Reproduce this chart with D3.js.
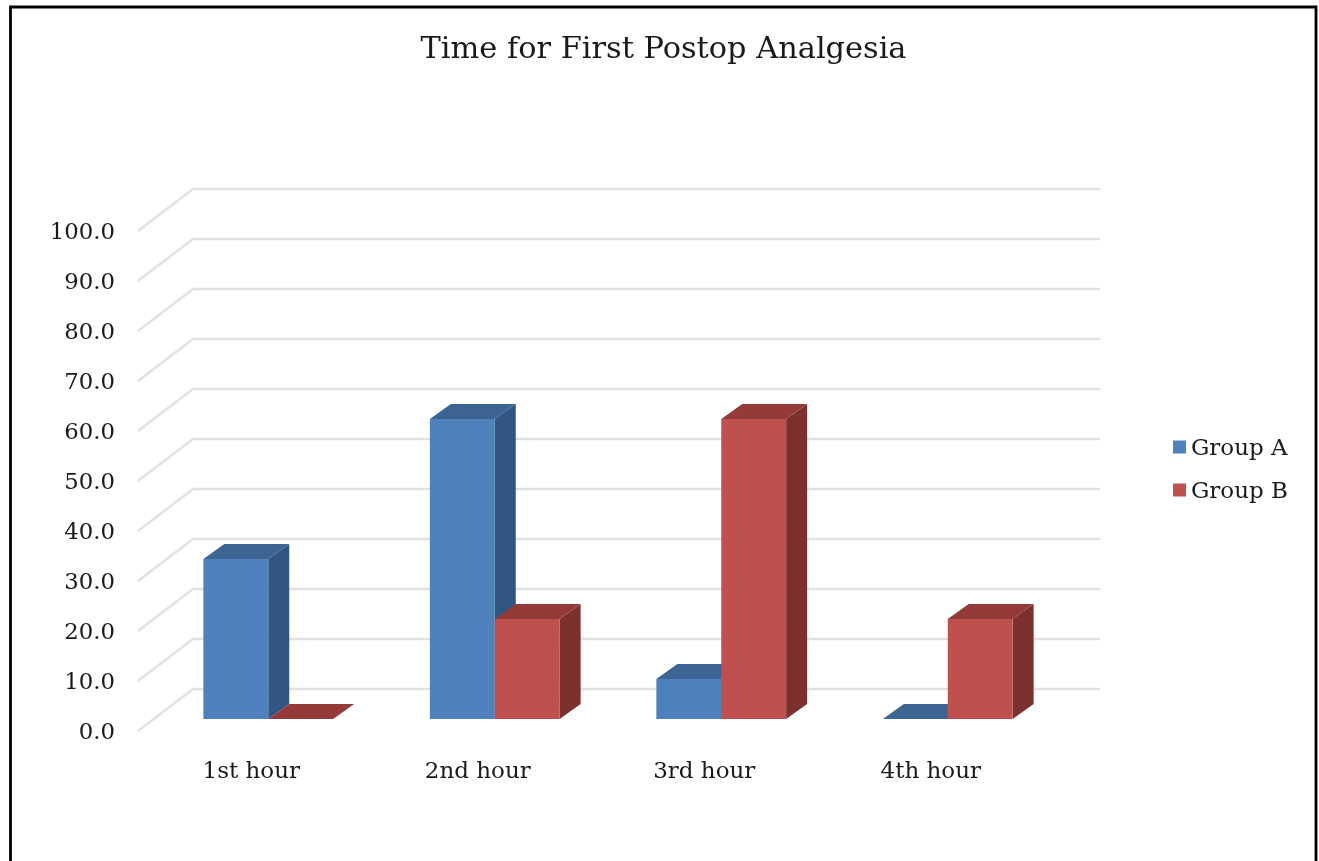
<!DOCTYPE html>
<html>
<head>
<meta charset="utf-8">
<title>Time for First Postop Analgesia</title>
<script src="https://cdn.jsdelivr.net/npm/d3@7"></script>
<style>
  html, body { margin: 0; padding: 0; background: #fff; overflow: hidden; }
  text { font-family: "DejaVu Serif", serif; fill: #1a1a1a; }
  /* the original is a soft upscaled picture */
  svg { filter: blur(0.5px); }
</style>
</head>
<body>
<svg id="chart" width="1319" height="861"></svg>
<script>
const hours = ["1st hour", "2nd hour", "3rd hour", "4th hour"];
const groups = ["Group A", "Group B"];
const groupA = [32, 60, 8, 0];
const groupB = [0, 20, 60, 20];
const yTicks = [0, 10, 20, 30, 40, 50, 60, 70, 80, 90, 100];
const frontColors = ["#4f81bd", "#c0504d"];
const topColors = ["#3d6594", "#943b39"];
const sideColors = ["#305681", "#7d312f"];

const svg = d3.select("#chart");

// chart frame, open at the bottom like the cropped original
svg.append("path")
  .attr("d", d3.line()([[10.5, 861], [10.5, 7], [1316, 7], [1316, 861]]))
  .attr("fill", "none")
  .attr("stroke", "#000")
  .attr("stroke-width", 2.8);

svg.append("text")
  .attr("x", 663.5)
  .attr("y", 58)
  .attr("text-anchor", "middle")
  .attr("font-size", 30.4)
  .text("Time for First Postop Analgesia");

// front floor edge of the 3d box
let x = d3.scaleBand().domain(hours).range([138, 1044]).paddingInner(0.427).paddingOuter(0.2135);
let xGroup = d3.scaleBand().domain(groups).range([0, x.bandwidth()]);
let y = d3.scaleLinear().domain([0, 100]).range([731, 231]);

// wall depth, bars sit part way in and have their own depth
const wallDepth = [55, -42];
const barOffset = [17, -12];
const barDepth = [21, -15];

let grid = svg.append("g");
yTicks.forEach(function(t) {
  grid.append("path")
    .attr("d", d3.line()([
      [x.range()[0], y(t)],
      [x.range()[0] + wallDepth[0], y(t) + wallDepth[1]],
      [x.range()[1] + wallDepth[0] + 1, y(t) + wallDepth[1]]
    ]))
    .attr("fill", "none")
    .attr("stroke", "#e2e2e2")
    .attr("stroke-width", 2.5);
  grid.append("text")
    .attr("x", 115)
    .attr("y", y(t))
    .attr("dy", "0.36em")
    .attr("text-anchor", "end")
    .attr("font-size", 22.8)
    .text(d3.format(".1f")(t));
});

let bars = svg.append("g");
hours.forEach(function(h, i) {
  [groupA[i], groupB[i]].forEach(function(v, s) {
    let x0 = x(h) + xGroup(groups[s]) + barOffset[0];
    let x1 = x0 + xGroup.bandwidth();
    let y0 = y(0) + barOffset[1];
    let yv = y(v) + barOffset[1];
    let dx = barDepth[0], dy = barDepth[1];
    bars.append("path") // side face
      .attr("d", d3.line()([[x1, yv], [x1 + dx, yv + dy], [x1 + dx, y0 + dy], [x1, y0]]) + "Z")
      .attr("fill", sideColors[s]);
    bars.append("path") // top face
      .attr("d", d3.line()([[x0, yv], [x0 + dx, yv + dy], [x1 + dx, yv + dy], [x1, yv]]) + "Z")
      .attr("fill", topColors[s]);
    bars.append("rect") // front face
      .attr("x", x0)
      .attr("y", yv)
      .attr("width", x1 - x0)
      .attr("height", y0 - yv)
      .attr("fill", frontColors[s]);
  });
});

hours.forEach(function(h) {
  svg.append("text")
    .attr("x", x(h) + x.bandwidth() / 2)
    .attr("y", 778)
    .attr("text-anchor", "middle")
    .attr("font-size", 23)
    .text(h);
});

let legend = svg.append("g");
groups.forEach(function(g, i) {
  let ly = 447 + i * 43;
  legend.append("rect")
    .attr("x", 1173)
    .attr("y", ly - 6.5)
    .attr("width", 13)
    .attr("height", 13)
    .attr("fill", frontColors[i]);
  legend.append("text")
    .attr("x", 1191)
    .attr("y", ly)
    .attr("dy", "0.36em")
    .attr("font-size", 23)
    .text(g);
});
</script>
</body>
</html>
